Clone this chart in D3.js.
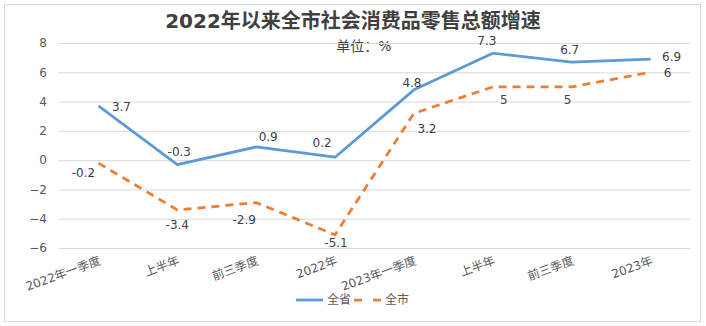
<!DOCTYPE html>
<html><head><meta charset="utf-8">
<script src="https://cdn.jsdelivr.net/npm/d3@7"></script>
<style>body{margin:0;background:#fff;}text{font-family:"DejaVu Sans","Noto Sans CJK SC",sans-serif;}</style>
</head><body><svg id="c" width="706" height="326"></svg>
<script>
const categories = ["2022年一季度","上半年","前三季度","2022年","2023年一季度","上半年","前三季度","2023年"];
const provinceValues = [3.7, -0.3, 0.9, 0.2, 4.8, 7.3, 6.7, 6.9];
const cityValues = [-0.2, -3.4, -2.9, -5.1, 3.2, 5, 5, 6];
const yTicks = [8, 6, 4, 2, 0, -2, -4, -6];
const seriesNames = ["全省", "全市"];
const titleText = "2022年以来全市社会消费品零售总额增速";
const unitText = "单位：%";

// label offsets (layout only)
const provOff = [[23,1],[2,-13],[12,-10],[-13,-14],[-2,-7],[-6,-12],[-2,-12],[21,-2]];
const cityOff = [[-15,10],[0,15],[-12,17],[1,8],[13,16],[11,13],[-4,13],[17,1]];

const svg = d3.select("#c");
svg.append("rect").attr("x",4.5).attr("y",4.5).attr("width",696).attr("height",317)
  .attr("fill","#fff").attr("stroke","#d9d9d9");

const x = d3.scaleBand().domain(d3.range(categories.length)).range([59,690]);
const y = d3.scaleLinear().domain([-6,8]).range([248,43]);

svg.append("text").attr("x",353).attr("y",28).attr("text-anchor","middle")
  .attr("font-size",20).attr("font-weight","bold").attr("fill","#404040").text(titleText);
svg.append("text").attr("x",364).attr("y",51).attr("text-anchor","middle")
  .attr("font-size",14).attr("fill","#404040").text(unitText);

const yAxis = svg.append("g").attr("transform","translate(59,0)")
  .call(d3.axisLeft(y).tickValues(yTicks).tickSize(-631).tickPadding(12).tickFormat(d3.format("d")));
yAxis.select(".domain").remove();
yAxis.selectAll("line").attr("stroke","#d9d9d9");
yAxis.selectAll("text").attr("font-size",12).attr("fill","#595959").attr("font-family","DejaVu Sans");

const xAxis = svg.append("g").attr("transform","translate(0,248)")
  .call(d3.axisBottom(x).tickSize(0).tickFormat(i=>categories[i]));
xAxis.select(".domain").attr("stroke","#d9d9d9");
xAxis.selectAll("text").attr("font-size",12).attr("fill","#595959")
  .attr("text-anchor","end").attr("dy",0).attr("y",0)
  .attr("transform","translate(3,16) rotate(-20)");

const cx = i => x(i) + x.bandwidth()/2;
const line = d3.line().x((d,i)=>cx(i)).y(d=>y(d));

svg.append("path").datum(provinceValues).attr("d",line).attr("fill","none")
  .attr("stroke","#5B9BD5").attr("stroke-width",2.75).attr("stroke-linejoin","round");
svg.append("path").datum(cityValues).attr("d",line).attr("fill","none")
  .attr("stroke","#ED7D31").attr("stroke-width",2.75).attr("stroke-dasharray","8,6");

svg.selectAll(".pl").data(provinceValues).enter().append("text")
  .attr("x",(d,i)=>cx(i)+provOff[i][0]).attr("y",(d,i)=>y(d)+provOff[i][1]+4)
  .attr("text-anchor","middle").attr("font-size",12).attr("fill","#404040").text(d=>d);
svg.selectAll(".cl").data(cityValues).enter().append("text")
  .attr("x",(d,i)=>cx(i)+cityOff[i][0]).attr("y",(d,i)=>y(d)+cityOff[i][1]+4)
  .attr("text-anchor","middle").attr("font-size",12).attr("fill","#404040").text(d=>d);

// legend
const lg = svg.append("g");
lg.append("line").attr("x1",296).attr("x2",323).attr("y1",300).attr("y2",300)
  .attr("stroke","#5B9BD5").attr("stroke-width",2.75);
lg.append("text").attr("x",327).attr("y",304).attr("font-size",12).attr("fill","#595959").text(seriesNames[0]);
lg.append("line").attr("x1",354).attr("x2",381).attr("y1",300).attr("y2",300)
  .attr("stroke","#ED7D31").attr("stroke-width",2.75).attr("stroke-dasharray","8,11");
lg.append("text").attr("x",385).attr("y",304).attr("font-size",12).attr("fill","#595959").text(seriesNames[1]);
</script></body></html>
